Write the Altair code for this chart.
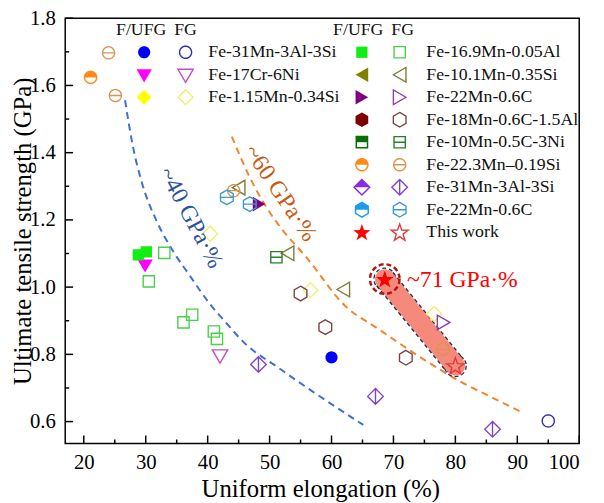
import math
import altair as alt
import pandas as pd

# ---------------- axis ticks ----------------
x_major = [20, 30, 40, 50, 60, 70, 80, 90, 100]
x_minor = [25, 35, 45, 55, 65, 75, 85, 95]
y_major = [0.6, 0.8, 1.0, 1.2, 1.4, 1.6, 1.8]
y_minor = [0.7, 0.9, 1.1, 1.3, 1.5, 1.7]

# ---------------- series data (F/UFG = f, FG = h) ----------------
# 1 Fe-31Mn-3Al-3Si (circles)
s1_f_x = [60.0]; s1_f_y = [0.791]
s1_h_x = [95.0]; s1_h_y = [0.602]
# 2 Fe-17Cr-6Ni
s2_f_x = [29.9]; s2_f_y = [1.066]
s2_h_x = [42.0]; s2_h_y = [0.797]
# 3 Fe-1.15Mn-0.34Si
s3_f_x = []; s3_f_y = []
s3_h_x = [40.4, 56.6, 76.6]; s3_h_y = [1.159, 0.991, 0.920]
# 4 Fe-16.9Mn-0.05Al
s4_f_x = [28.8, 30.1]; s4_f_y = [1.096, 1.105]
s4_h_x = [33.0, 30.5, 36.1, 37.5, 41.0, 41.5]
s4_h_y = [1.102, 1.017, 0.895, 0.918, 0.868, 0.846]
# 5 Fe-10.1Mn-0.35Si
s5_f_x = []; s5_f_y = []
s5_h_x = [45.0, 52.9, 61.9]; s5_h_y = [1.296, 1.101, 0.993]
# 6 Fe-22Mn-0.6C (triangles)
s6_f_x = [48.3]; s6_f_y = [1.247]
s6_h_x = [78.1]; s6_h_y = [0.895]
# 7 Fe-18Mn-0.6C-1.5Al
s7_f_x = []; s7_f_y = []
s7_h_x = [55.0, 59.0, 72.0]; s7_h_y = [0.981, 0.881, 0.790]
# 8 Fe-10Mn-0.5C-3Ni
s8_f_x = []; s8_f_y = []
s8_h_x = [51.1]; s8_h_y = [1.089]
# 9 Fe-22.3Mn-0.19Si
s9_f_x = [21.1]; s9_f_y = [1.624]
s9_h_x = [24.0, 25.1, 44.2, 78.0]; s9_h_y = [1.697, 1.570, 1.287, 0.815]
# 10 Fe-31Mn-3Al-3Si (diamonds)
s10_f_x = []; s10_f_y = []
s10_h_x = [48.2, 67.1, 86.0]; s10_h_y = [0.770, 0.675, 0.577]
# 11 Fe-22Mn-0.6C (hexagons)
s11_f_x = []; s11_f_y = []
s11_h_x = [43.1, 46.8]; s11_h_y = [1.267, 1.247]
# 12 This work
s12_f_x = [68.6]; s12_f_y = [1.024]
s12_h_x = [80.0]; s12_h_y = [0.766]

labels = ["Fe-31Mn-3Al-3Si", "Fe-17Cr-6Ni", "Fe-1.15Mn-0.34Si",
          "Fe-16.9Mn-0.05Al", "Fe-10.1Mn-0.35Si", "Fe-22Mn-0.6C",
          "Fe-18Mn-0.6C-1.5Al", "Fe-10Mn-0.5C-3Ni", "Fe-22.3Mn\u20130.19Si",
          "Fe-31Mn-3Al-3Si", "Fe-22Mn-0.6C", "This work"]

# iso-product curves
c40_x = [26.66, 27.98, 29.30, 31.96, 34.62, 37.01, 40.19, 43.11, 45.76, 51.59, 56.91, 65.13]
c40_y = [1.556, 1.414, 1.316, 1.189, 1.101, 1.037, 0.954, 0.891, 0.837, 0.758, 0.690, 0.590]
c60_x = [43.90, 46.82, 49.47, 52.13, 55.84, 62.21, 67.52, 75.48, 80.80, 86.10, 90.35]
c60_y = [1.448, 1.326, 1.238, 1.169, 1.091, 0.944, 0.876, 0.778, 0.719, 0.670, 0.631]

band_x = [68.6, 80.0]
band_y = [1.024, 0.766]

# annotations
ann_text = ["~40 GPa\u00b7%", "~60 GPa\u00b7%", "~71 GPa\u00b7%"]
ann_x = [37.26, 51.73, 72.2]
ann_y = [1.206, 1.279, 1.020]

# ---------------- styling ----------------
SERIF = "Liberation Serif"
W, H = 521, 431


def poly(pts):
    return "M" + "L".join(f"{x:.3f},{y:.3f}" for x, y in pts) + "Z"


circ = [(math.cos(2 * math.pi * k / 40), math.sin(2 * math.pi * k / 40)) for k in range(40)]
circ_top = [(math.cos(math.pi + math.pi * k / 20), math.sin(math.pi + math.pi * k / 20)) for k in range(21)]
hexp = [(math.cos(math.radians(-90 + 60 * k)), math.sin(math.radians(-90 + 60 * k))) for k in range(6)]
hex_top = [(-0.866, 0), (-0.866, -0.5), (0, -1), (0.866, -0.5), (0.866, 0)]
star = []
for k in range(10):
    r = 1.0 if k % 2 == 0 else 0.40
    a = -math.pi / 2 + k * math.pi / 5
    star.append((r * math.cos(a), r * math.sin(a) + 0.09))

SQ = [(-1, -1), (1, -1), (1, 1), (-1, 1)]
DM = [(0, -1), (1, 0), (0, 1), (-1, 0)]
SHAPES = {
    "circle": dict(outline=poly(circ), hollow=poly(circ), top=None, size=150),
    "circle_l": dict(outline=poly(circ), hollow=poly(circ) + "M-1,0L1,0", top=poly(circ_top), size=150),
    "square": dict(outline=poly(SQ), hollow=poly(SQ), top=None, size=130),
    "square_l": dict(outline=poly(SQ), hollow=poly(SQ) + "M-1,0L1,0",
                     top=poly([(-1, -1), (1, -1), (1, 0), (-1, 0)]), size=130),
    "diamond": dict(outline=poly(DM), hollow=poly(DM), top=None, size=230),
    "diamond_l": dict(outline=poly(DM), hollow=poly(DM) + "M0,-1L0,1",
                      top=poly([(-1, 0), (0, -1), (1, 0)]), size=250),
    "tri_down": dict(outline=poly([(-1, -0.72), (1, -0.72), (0, 1)]),
                     hollow=poly([(-1, -0.72), (1, -0.72), (0, 1)]), top=None, size=240),
    "tri_left": dict(outline=poly([(-0.86, 0), (0.86, -1), (0.86, 1)]),
                     hollow=poly([(-0.86, 0), (0.86, -1), (0.86, 1)]), top=None, size=220),
    "tri_right": dict(outline=poly([(0.86, 0), (-0.86, -1), (-0.86, 1)]),
                      hollow=poly([(0.86, 0), (-0.86, -1), (-0.86, 1)]), top=None, size=220),
    "hex": dict(outline=poly(hexp), hollow=poly(hexp), top=None, size=220),
    "hex_l": dict(outline=poly(hexp), hollow=poly(hexp) + "M-0.866,0L0.866,0", top=poly(hex_top), size=220),
    "star": dict(outline=poly(star), hollow=poly(star), top=None, size=330),
}

STYLE = {
    1: dict(shape="circle", fill="#0000ff", stroke="#2f2fb0"),
    2: dict(shape="tri_down", fill="#ff00ff", stroke="#c44cc4"),
    3: dict(shape="diamond", fill="#ffff00", stroke="#eeee77"),
    4: dict(shape="square", fill="#11ee11", stroke="#4ad04a"),
    5: dict(shape="tri_left", fill="#808000", stroke="#7c7c38"),
    6: dict(shape="tri_right", fill="#800080", stroke="#8a40b0"),
    7: dict(shape="hex", fill="#800000", stroke="#7a4444"),
    8: dict(shape="square_l", fill="#0a6e0a", stroke="#2a7f2a"),
    9: dict(shape="circle_l", fill="#ff8a1a", stroke="#d99550"),
    10: dict(shape="diamond_l", fill="#8a2be2", stroke="#8044cc"),
    11: dict(shape="hex_l", fill="#1e9be8", stroke="#3a9ad2"),
    12: dict(shape="star", fill="#ff0000", stroke="#e03a3a"),
}

DATA = {
    1: (s1_f_x, s1_f_y, s1_h_x, s1_h_y), 2: (s2_f_x, s2_f_y, s2_h_x, s2_h_y),
    3: (s3_f_x, s3_f_y, s3_h_x, s3_h_y), 4: (s4_f_x, s4_f_y, s4_h_x, s4_h_y),
    5: (s5_f_x, s5_f_y, s5_h_x, s5_h_y), 6: (s6_f_x, s6_f_y, s6_h_x, s6_h_y),
    7: (s7_f_x, s7_f_y, s7_h_x, s7_h_y), 8: (s8_f_x, s8_f_y, s8_h_x, s8_h_y),
    9: (s9_f_x, s9_f_y, s9_h_x, s9_h_y), 10: (s10_f_x, s10_f_y, s10_h_x, s10_h_y),
    11: (s11_f_x, s11_f_y, s11_h_x, s11_h_y), 12: (s12_f_x, s12_f_y, s12_h_x, s12_h_y),
}

xscale = alt.Scale(domain=[17, 100], nice=False, zero=False)
yscale = alt.Scale(domain=[0.535, 1.8], nice=False, zero=False)
xaxis = alt.Axis(values=x_major, format="d", title="Uniform elongation (%)", ticks=False,
                 domain=False, grid=False, labelFont=SERIF, labelFontSize=21, labelColor="black",
                 labelPadding=8, titleFont=SERIF, titleFontSize=25, titleFontWeight="normal",
                 titleColor="black", titleX=W / 2 - 2, titleY=46, titleBaseline="middle",
                 titleAlign="center")
yaxis = alt.Axis(values=y_major, format=".1f", title="Ultimate tensile strength (GPa)", ticks=False,
                 domain=False, grid=False, labelFont=SERIF, labelFontSize=21, labelColor="black",
                 labelPadding=10, titleFont=SERIF, titleFontSize=25, titleFontWeight="normal",
                 titleColor="black", titleX=-43, titleY=H / 2, titleAngle=270,
                 titleBaseline="middle", titleAlign="center")
XE = alt.X("x:Q", scale=xscale, axis=xaxis)
YE = alt.Y("y:Q", scale=yscale, axis=yaxis)
PXE = alt.X("px:Q", scale=None, axis=None)
PYE = alt.Y("py:Q", scale=None, axis=None)


def marker_layers(df, xe, ye, st, kind):
    sh = SHAPES[st["shape"]]
    sz = sh["size"]
    out = []
    base = alt.Chart(df)
    if kind == "F":
        if sh["top"] is not None:
            out.append(base.mark_point(shape=sh["outline"], filled=True, color="white", size=sz,
                                       opacity=1, strokeWidth=0).encode(x=xe, y=ye))
            out.append(base.mark_point(shape=sh["top"], filled=True, color=st["fill"], size=sz,
                                       opacity=1, strokeWidth=0).encode(x=xe, y=ye))
            out.append(base.mark_point(shape=sh["outline"], filled=False, color=st["fill"], size=sz,
                                       opacity=1, strokeWidth=1.5).encode(x=xe, y=ye))
        else:
            out.append(base.mark_point(shape=sh["outline"], filled=True, color=st["fill"], size=sz,
                                       opacity=1, strokeWidth=0).encode(x=xe, y=ye))
    else:
        out.append(base.mark_point(shape=sh["hollow"], filled=False, color=st["stroke"], size=sz,
                                   opacity=1, strokeWidth=1.4).encode(x=xe, y=ye))
    return out


layers = []

# axis ticks (inward)
layers.append(alt.Chart(pd.DataFrame({"x": x_major})).mark_rule(color="black", strokeWidth=1.5)
              .encode(x=XE, y=alt.value(H), y2=alt.value(H - 8)))
layers.append(alt.Chart(pd.DataFrame({"x": x_minor})).mark_rule(color="black", strokeWidth=1.5)
              .encode(x=XE, y=alt.value(H), y2=alt.value(H - 4)))
layers.append(alt.Chart(pd.DataFrame({"y": y_major})).mark_rule(color="black", strokeWidth=1.5)
              .encode(y=YE, x=alt.value(0), x2=alt.value(8)))
layers.append(alt.Chart(pd.DataFrame({"y": y_minor})).mark_rule(color="black", strokeWidth=1.5)
              .encode(y=YE, x=alt.value(0), x2=alt.value(4)))

# dashed iso-lines
layers.append(alt.Chart(pd.DataFrame({"x": c40_x, "y": c40_y})).mark_line(
    color="#3d6fd6", strokeWidth=2, strokeDash=[7, 5], interpolate="monotone").encode(x=XE, y=YE))
layers.append(alt.Chart(pd.DataFrame({"x": c60_x, "y": c60_y})).mark_line(
    color="#f28532", strokeWidth=2, strokeDash=[7, 5], interpolate="monotone").encode(x=XE, y=YE))

# band with dashed outline
band_df = pd.DataFrame({"x": band_x, "y": band_y})
layers.append(alt.Chart(band_df).mark_line(color="#1c2c4c", strokeWidth=22.5, strokeCap="butt",
                                           strokeDash=[4, 3]).encode(x=XE, y=YE))
layers.append(alt.Chart(band_df).mark_point(shape="circle", size=484, filled=False, color="#1c2c4c",
                                            strokeWidth=1.3, strokeDash=[4, 3], opacity=1)
              .encode(x=XE, y=YE))
layers.append(alt.Chart(band_df).mark_line(color="#f5897b", strokeWidth=20, strokeCap="round")
              .encode(x=XE, y=YE))

# data points
for sid in range(1, 13):
    fx, fy, hx, hy = DATA[sid]
    st = STYLE[sid]
    if hx:
        layers += marker_layers(pd.DataFrame({"x": hx, "y": hy}), XE, YE, st, "H")
    if fx:
        layers += marker_layers(pd.DataFrame({"x": fx, "y": fy}), XE, YE, st, "F")

# dashed circle around this work
layers.append(alt.Chart(pd.DataFrame({"x": s12_f_x, "y": s12_f_y})).mark_point(
    shape="circle", size=900, filled=False, color="#b01515", strokeWidth=2.5,
    strokeDash=[5, 3], opacity=1).encode(x=XE, y=YE))
layers += marker_layers(pd.DataFrame({"x": s12_f_x, "y": s12_f_y}), XE, YE, STYLE[12], "F")

# annotations
ann_colors = ["#2b52a3", "#c45a14", "#ff0000"]
ann_angles = [62, 56, 0]
ann_align = ["center", "center", "left"]
for t, ax_, ay_, c, a, al in zip(ann_text, ann_x, ann_y, ann_colors, ann_angles, ann_align):
    layers.append(alt.Chart(pd.DataFrame({"x": [ax_], "y": [ay_], "t": [t]})).mark_text(
        font=SERIF, fontSize=24, color=c, angle=a, align=al, baseline="middle").encode(
        x=XE, y=YE, text="t:N"))

# ---------------- legend (pixel layout inside plot) ----------------
row0, rstep = 34.5, 22.8
groups = [
    dict(ids=[1, 2, 3], fx=80, hx=122, lx=145, hdr_f=77, hdr_h=122),
    dict(ids=[4, 5, 6, 7, 8, 9, 10, 11, 12], fx=300.7, hx=339, lx=366, hdr_f=297, hdr_h=342),
]
for g in groups:
    hdr = pd.DataFrame({"px": [g["hdr_f"], g["hdr_h"]], "py": [12, 12], "t": ["F/UFG", "FG"]})
    layers.append(alt.Chart(hdr).mark_text(font=SERIF, fontSize=18, color="#111",
                                           align="center", baseline="middle")
                  .encode(x=PXE, y=PYE, text="t:N"))
    for i, sid in enumerate(g["ids"]):
        py = row0 + rstep * i
        st = STYLE[sid]
        layers += marker_layers(pd.DataFrame({"px": [g["fx"]], "py": [py]}), PXE, PYE, st, "F")
        layers += marker_layers(pd.DataFrame({"px": [g["hx"]], "py": [py]}), PXE, PYE, st, "H")
    lab = pd.DataFrame({"px": [g["lx"]] * len(g["ids"]),
                        "py": [row0 + rstep * i for i in range(len(g["ids"]))],
                        "t": [labels[s - 1] for s in g["ids"]]})
    layers.append(alt.Chart(lab).mark_text(font=SERIF, fontSize=18, color="#111",
                                           align="left", baseline="middle")
                  .encode(x=PXE, y=PYE, text="t:N"))

chart = alt.layer(*layers).properties(
    width=W, height=H,
    autosize=alt.AutoSizeParams(type="none"),
    padding={"left": 58, "top": 7, "right": 17, "bottom": 56},
    background="white",
).configure(font=SERIF).configure_axis(labelFont=SERIF, titleFont=SERIF).configure_text(
    font=SERIF).configure_view(stroke="black", strokeWidth=1.5)

chart.save("out.html", embed_options={"renderer": "svg", "actions": False})
